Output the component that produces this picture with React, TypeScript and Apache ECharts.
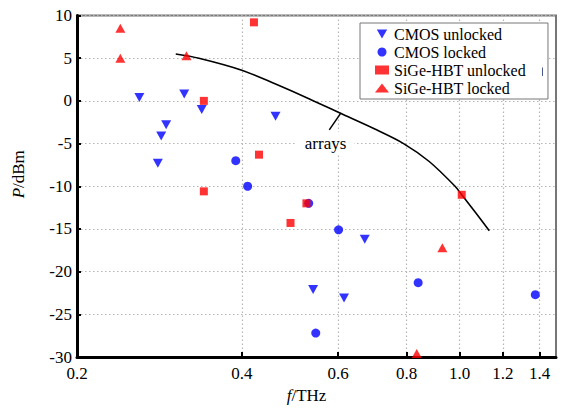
import React, { useEffect, useRef } from 'react';
import * as echarts from 'echarts';

const FONT = 'Liberation Serif';

const seriesNames = ['CMOS unlocked', 'CMOS locked', 'SiGe-HBT unlocked', 'SiGe-HBT locked'];

const xTickValues = [0.4, 0.6, 0.8, 1.0, 1.2, 1.4];
const xLabelValues = [0.2, 0.4, 0.6, 0.8, 1.0, 1.2, 1.4];

const cmosUnlockedF = [0.26, 0.314, 0.338, 0.291, 0.285, 0.281, 0.461, 0.671, 0.54, 0.615];
const cmosUnlockedP = [0.4, 0.8, -1.0, -2.8, -4.1, -7.3, -1.8, -16.2, -22.1, -23.1];

const cmosLockedF = [0.39, 0.41, 0.53, 0.601, 0.84, 0.546, 1.375];
const cmosLockedP = [-7.0, -10.0, -12.0, -15.1, -21.3, -27.2, -22.7];

const sigeUnlockedF = [0.341, 0.341, 0.43, 0.421, 0.525, 0.491, 1.009];
const sigeUnlockedP = [0.0, -10.6, -6.3, 9.2, -12.0, -14.3, -11.0];

const sigeLockedF = [0.24, 0.24, 0.317, 0.93, 0.835];
const sigeLockedP = [8.5, 5.0, 5.3, -17.2, -29.6];

const arraysF = [0.303, 0.334, 0.4, 0.46, 0.533, 0.603, 0.7, 0.79, 0.88, 0.981, 1.009, 1.07, 1.133];
const arraysP = [5.5, 5.0, 3.6, 2.0, 0.2, -1.4, -3.3, -5.0, -7.1, -10.0, -11.0, -13.1, -15.2];

const arrowFrom = [0.578, -3.4];
const arrowTo = [0.607, -1.41];
const arraysLabelAt = [0.569, -5.0];

const zip = (a: number[], b: number[]) => a.map((v, i) => [v, b[i]]);

const DOWN_TRI = 'path://M0,0L10,0L5,8.66Z';

export default function App() {
  const ref = useRef<HTMLDivElement>(null);
  useEffect(() => {
    if (!ref.current) return;
    const chart = echarts.init(ref.current, undefined, { renderer: 'svg' });
    const axisText = { color: '#000', fontFamily: FONT, fontSize: 17 };
    const splitStyle = { color: '#b5b5b5', width: 1.2, type: [1.5, 2.5] as any };
    const option: any = {
      animation: false,
      backgroundColor: '#fff',
      textStyle: { fontFamily: FONT },
      grid: {
        left: 77, right: 9, top: 15.5, bottom: 51,
        show: true, borderColor: '#777', borderWidth: 2, backgroundColor: 'transparent',
      },
      xAxis: {
        type: 'log', logBase: 10, min: 0.2, max: 1.5,
        name: '{i|f}/THz', nameLocation: 'middle', nameGap: 30,
        nameTextStyle: {
          ...axisText, padding: [0, 20, 0, 0],
          rich: { i: { fontStyle: 'italic', fontFamily: FONT, fontSize: 17, color: '#000' } },
        },
        axisLine: { show: true, onZero: false, lineStyle: { color: '#000', width: 3 } },
        axisTick: { show: true, inside: true, length: 5, lineStyle: { color: '#000', width: 2 }, customValues: xTickValues },
        axisLabel: { ...axisText, margin: 8, customValues: xLabelValues, formatter: (v: number) => Number(v).toFixed(1) },
        splitLine: { show: true, lineStyle: splitStyle },
        minorTick: { show: false }, minorSplitLine: { show: false },
      },
      yAxis: {
        type: 'value', min: -30, max: 10, interval: 5,
        name: '{i|P}/dBm', nameLocation: 'middle', nameGap: 50, nameRotate: 90,
        nameTextStyle: {
          ...axisText, padding: [0, 0, 0, 24],
          rich: { i: { fontStyle: 'italic', fontFamily: FONT, fontSize: 17, color: '#000' } },
        },
        axisLine: { show: true, onZero: false, lineStyle: { color: '#000', width: 3 } },
        axisTick: { show: true, inside: true, length: 4, lineStyle: { color: '#000', width: 2 } },
        axisLabel: { ...axisText, margin: 5 },
        splitLine: { show: true, lineStyle: splitStyle },
      },
      legend: {
        orient: 'vertical', left: 360, top: 23,
        padding: [2, 22, 2, 15],
        itemWidth: 14, itemHeight: 9, itemGap: 0,
        borderColor: '#777', borderWidth: 1, backgroundColor: '#fff',
        textStyle: { fontFamily: FONT, fontSize: 16, color: '#000', lineHeight: 18 },
        data: seriesNames,
      },
      graphic: [
        { type: 'line', z: 100, shape: { x1: 542.5, y1: 67.5, x2: 542.5, y2: 76 }, style: { stroke: '#4a5a8a', lineWidth: 1 } },
      ],
      series: [
        {
          name: 'arrays', type: 'line', smooth: 0.3, symbol: 'none', silent: true,
          lineStyle: { color: '#000', width: 1.6 },
          data: zip(arraysF, arraysP), z: 1,
          markLine: {
            silent: true, symbol: ['none', 'arrow'], symbolSize: [0, 7],
            lineStyle: { color: '#000', width: 1.5, type: 'solid' }, label: { show: false },
            data: [[{ coord: arrowFrom }, { coord: arrowTo }]],
          },
          markPoint: {
            silent: true, symbol: 'rect', symbolSize: 1, itemStyle: { color: 'rgba(0,0,0,0)' },
            label: {
              show: true, position: 'inside', formatter: 'arrays', color: '#000',
              fontFamily: FONT, fontSize: 17, backgroundColor: '#fff', padding: [3, 8],
            },
            data: [{ coord: arraysLabelAt }],
          },
        },
        {
          name: seriesNames[0], type: 'scatter', symbol: DOWN_TRI, symbolSize: [10, 9],
          itemStyle: { color: '#0000ff' }, data: zip(cmosUnlockedF, cmosUnlockedP),
        },
        {
          name: seriesNames[1], type: 'scatter', symbol: 'circle', symbolSize: 9,
          itemStyle: { color: '#0000ff' }, data: zip(cmosLockedF, cmosLockedP),
        },
        {
          name: seriesNames[2], type: 'scatter', symbol: 'rect', symbolSize: 8,
          itemStyle: { color: '#ff0000' }, data: zip(sigeUnlockedF, sigeUnlockedP),
        },
        {
          name: seriesNames[3], type: 'scatter', symbol: 'triangle', symbolSize: [10, 9],
          itemStyle: { color: '#ff0000' }, data: zip(sigeLockedF, sigeLockedP),
        },
      ],
    };
    chart.setOption(option);
    return () => chart.dispose();
  }, []);
  return <div ref={ref} style={{ position: 'fixed', left: 0, top: 0, width: 565, height: 409 }} />;
}
